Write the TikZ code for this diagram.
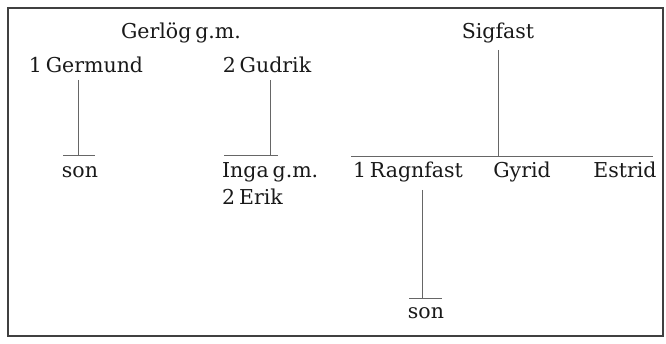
\documentclass[tikz,border=0pt]{standalone}
\usepackage{fontspec}
\setmainfont{DejaVu Serif}[WordSpace=0.6]
\tikzset{every picture/.style={line width=0.75pt}}
\tikzset{
  person/.style={anchor=base,inner sep=0.75pt,font=\fontsize{20.5}{24}\selectfont,text=black!90},
  stem/.style={draw=black!60,line width=0.8pt},
  frame/.style={draw=black!75,line width=1.3pt}
}
\begin{document}
\begin{tikzpicture}[x=1pt,y=1pt,yscale=-1,xscale=1]
\useasboundingbox (0,0) rectangle (666,344);
%Frame
\draw [frame] (8,8) rectangle (663,336);

% Text Node
\node [person] (gerlog) at (181,39) {Gerlög g.m.};
% Text Node
\node [person] (germund) at (86,73) {1 Germund};
% Text Node
\node [person] (gudrik) at (267,73) {2 Gudrik};
% Text Node
\node [person] (son1) at (80,178) {son};
% Text Node
\node [person,anchor=base west] (inga) at (221,178) {Inga g.m.};
% Text Node
\node [person,anchor=base west] (erik) at (221,205) {2 Erik};
% Text Node
\node [person] (sigfast) at (498,39) {Sigfast};
% Text Node
\node [person] (ragnfast) at (408,178) {1 Ragnfast};
% Text Node
\node [person] (gyrid) at (522,178) {Gyrid};
% Text Node
\node [person] (estrid) at (625,178) {Estrid};
% Text Node
\node [person] (son2) at (426,319) {son};

%Straight Lines
\coordinate (germund-top) at (78,80);
\coordinate (germund-end) at (78,155);
\draw [stem] (germund-top) -- (germund-end);
\draw [stem] (germund-end) ++(-15,0) -- ++(32,0);
%Straight Lines
\coordinate (gudrik-top) at (270,80);
\coordinate (gudrik-end) at (270,155);
\draw [stem] (gudrik-top) -- (gudrik-end);
\draw [stem] (gudrik-end) ++(-46,0) -- ++(54,0);
%Straight Lines
\coordinate (sigfast-top) at (498,50);
\coordinate (sigfast-end) at (498,156);
\draw [stem] (sigfast-top) -- (sigfast-end);
\draw [stem] (sigfast-end) ++(-147,0) -- ++(302,0);
%Straight Lines
\coordinate (ragnfast-top) at (422,190);
\coordinate (ragnfast-end) at (422,298);
\draw [stem] (ragnfast-top) -- (ragnfast-end);
\draw [stem] (ragnfast-end) ++(-13,0) -- ++(33,0);
\end{tikzpicture}
\end{document}
